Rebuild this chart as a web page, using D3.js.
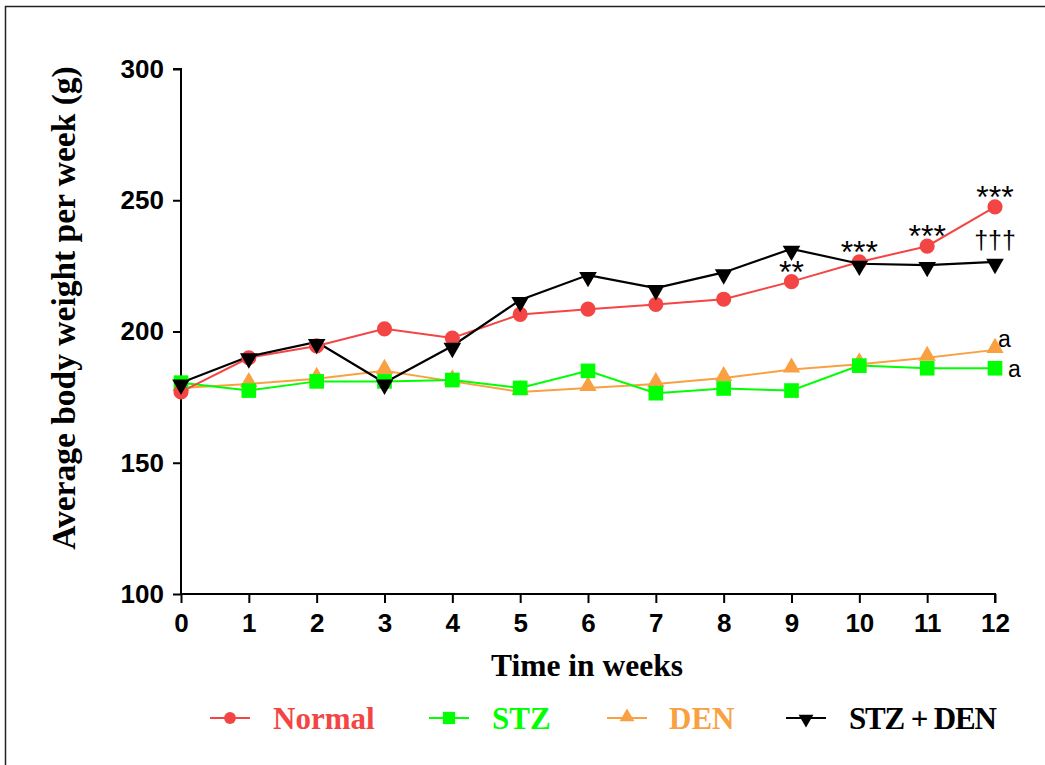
<!DOCTYPE html>
<html><head><meta charset="utf-8">
<script src="https://cdn.jsdelivr.net/npm/d3@7"></script>
<style>body{margin:0;background:#fff}svg{display:block}</style>
</head><body><svg id="c" width="1045" height="765"></svg>
<script>
const weeks = [0,1,2,3,4,5,6,7,8,9,10,11,12];
const normal = [177,190,194.5,201,197.5,206.5,208.5,210.3,212.3,219,226.5,232.5,247.5];
const stz = [180.5,177.5,181,181,181.5,178.5,185,176.5,178.3,177.5,187,186,186];
const den = [178.5,180,182,185,181,177,178.5,180,182.3,185.5,187.5,190,193];
const stzden = [180.5,190.5,196,180.5,194.5,212,221.5,216.5,222.5,231.5,225.8,225.3,226.5];
const yTicks = [100,150,200,250,300];
const seriesNames = ["Normal","STZ","DEN","STZ + DEN"];
const seriesColors = ["#F44545","#00FF00","#F9A142","#000000"];
const annotations = [
  {week:9, value:219, text:"**", size:32, dy:1},
  {week:10, value:226.5, text:"***", size:32, dy:1},
  {week:11, value:232.5, text:"***", size:32, dy:1},
  {week:12, value:247.5, text:"***", size:32, dy:1},
  {week:12, value:226.5, text:"†††", size:25, dy:-13}
];
const letters = [{week:12, value:193, text:"a", dx:3, dy:-3},{week:12, value:186, text:"a", dx:13, dy:9}];

const svg = d3.select("#c");
svg.append("rect").attr("x",5.5).attr("y",6.5).attr("width",1100).attr("height",800)
  .attr("fill","none").attr("stroke","#222").attr("stroke-width",1.5);

const x = d3.scaleLinear().domain([0,12]).range([181,995]);
const y = d3.scaleLinear().domain([100,300]).range([594,69]);

const sans = "'Liberation Sans',Arial,sans-serif";
const serif = "'Liberation Serif','Times New Roman',serif";

const yAxis = svg.append("g").attr("transform","translate(181,0)")
  .call(d3.axisLeft(y).tickValues(yTicks).tickSize(8).tickPadding(9));
const xAxis = svg.append("g").attr("transform","translate(0,594)")
  .call(d3.axisBottom(x).tickValues(weeks).tickSize(9).tickPadding(11).tickFormat(d3.format("d")));
[yAxis,xAxis].forEach(a=>{
  a.select(".domain").attr("stroke","#000").attr("stroke-width",2);
  a.selectAll(".tick line").attr("stroke","#000").attr("stroke-width",2);
  a.selectAll("text").attr("fill","#000").style("font-family",sans)
   .style("font-weight","bold").style("font-size","26px");
});
yAxis.select(".domain").attr("d","M-0,594V69H-8");
xAxis.select(".domain").attr("d","M181,0H995V9");

svg.append("text").attr("x",587).attr("y",676).attr("text-anchor","middle")
  .style("font-family",serif).style("font-weight","bold").style("font-size","31.5px").text("Time in weeks");
svg.append("text").attr("transform","translate(75,308) rotate(-90)").attr("text-anchor","middle")
  .style("font-family",serif).style("font-weight","bold").style("font-size","33.5px").text("Average body weight per week (g)");

const data = [normal,stz,den,stzden];
const sym = [d3.symbolCircle,d3.symbolSquare,d3.symbolTriangle,d3.symbolTriangle];
const symSize = [180,215,130,135];
const legSize = [110,150,95,95];
const line = d3.line().x((d,i)=>x(weeks[i])).y(d=>y(d));

function marker(g, k, cx, cy, sz){
  const p = g.append("path").attr("d",d3.symbol().type(sym[k]).size(sz[k])())
    .attr("fill",seriesColors[k]);
  p.attr("transform",`translate(${cx},${cy})` + (k===3?" rotate(180)":""));
}
const order = [2,1,0,3];
order.forEach(k=>{
  svg.append("path").datum(data[k]).attr("d",line).attr("fill","none")
    .attr("stroke",seriesColors[k]).attr("stroke-width",k===3?2.2:2);
});
order.forEach(k=>{
  const g = svg.append("g");
  data[k].forEach((v,i)=>marker(g,k,x(weeks[i]),y(v)+(k>=2?(k===2?-2:2):0),symSize));
});

annotations.forEach(a=>{
  svg.append("text").attr("x",x(a.week)).attr("y",y(a.value)+a.dy).attr("text-anchor","middle")
   .style("font-family",sans).style("font-size",a.size+"px").attr("fill","#000")
   .text(a.text);
});
letters.forEach(a=>{
  svg.append("text").attr("x",x(a.week)+a.dx).attr("y",y(a.value)+a.dy)
   .style("font-family",sans).style("font-size","23px").attr("fill","#000")
   .text(a.text);
});

const legX = [230,449,627,806];
const legTextX = [273,492,669,849];
legX.forEach((lx,k)=>{
  const ly = 718;
  svg.append("line").attr("x1",lx-20).attr("x2",lx+20).attr("y1",ly).attr("y2",ly)
    .attr("stroke",seriesColors[k]).attr("stroke-width",2);
  marker(svg,k,lx,ly+(k>=2?(k===2?-1:1):0),legSize);
  const t = svg.append("text").attr("x",legTextX[k]).attr("y",729)
    .style("font-family",serif).style("font-weight","bold").style("font-size","31px")
    .attr("fill",seriesColors[k]).text(seriesNames[k]);
  if(k===3) t.attr("textLength",148).attr("lengthAdjust","spacing");
});
</script></body></html>
